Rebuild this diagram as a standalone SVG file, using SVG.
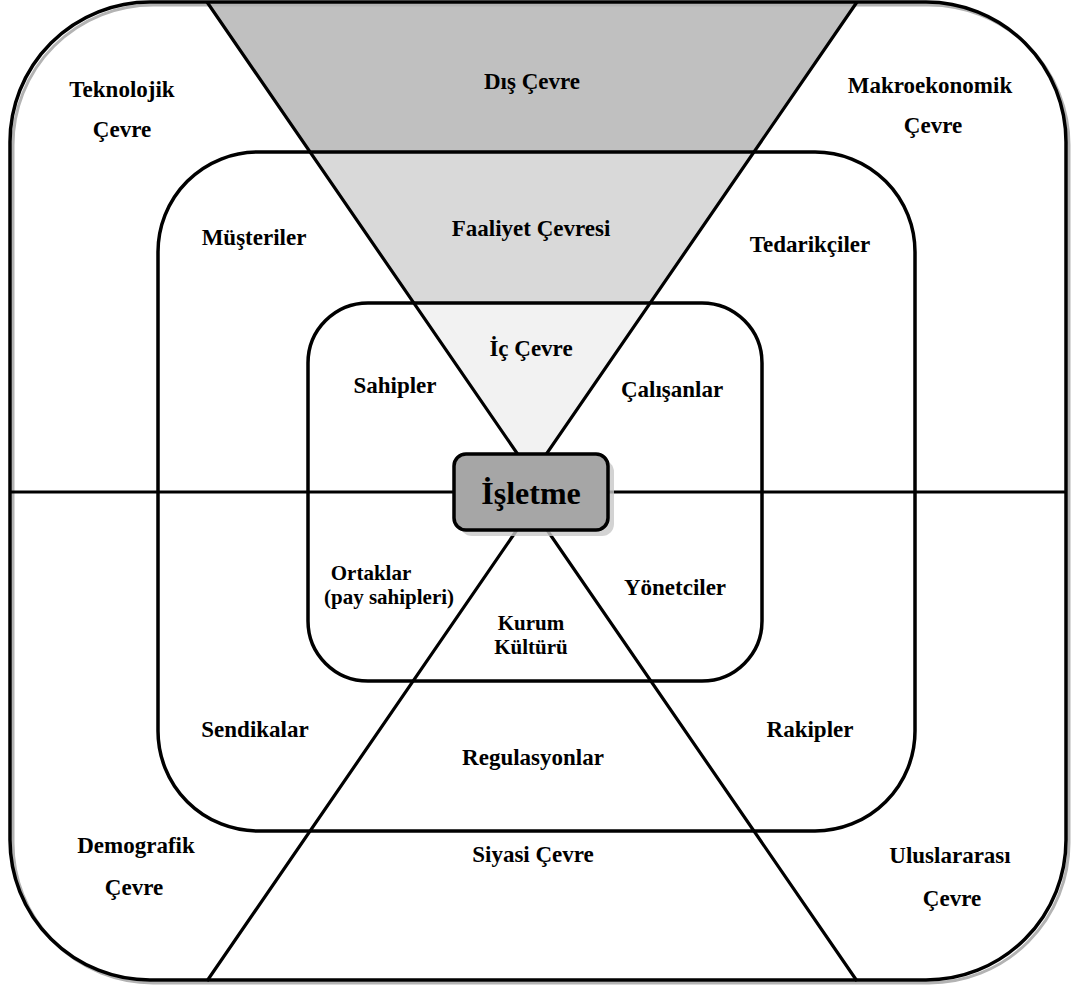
<svg xmlns="http://www.w3.org/2000/svg" width="1072" height="987" viewBox="0 0 1072 987">
  <style>
    .frame { fill: none; stroke: #000; stroke-width: 3.5; }
    .shadow { fill: none; stroke: #b3b3b3; stroke-width: 3; }
    .line { fill: none; stroke: #000; stroke-width: 3.2; }
    .lbl { font-family: "Liberation Serif", "Times New Roman", serif; font-weight: bold; font-size: 23px; fill: #000; text-anchor: middle; }
    .tight { font-size: 21px; }
    .core { font-size: 32px; }
  </style>
  <rect x="0" y="0" width="1072" height="987" fill="#fff"/>

  <!-- shaded bands of the upper wedge -->
  <g id="wedge-fill">
    <polygon points="207,2 857,2 754,152 310,152" fill="#c0c0c0"/>
    <polygon points="310,152 754,152 650,303 414,303" fill="#d9d9d9"/>
    <polygon points="414,303 650,303 532,475" fill="#f2f2f2"/>
  </g>

  <!-- environment rings -->
  <g id="ring-outer">
    <rect class="shadow" x="13" y="5" width="1056" height="978" rx="140" ry="140"/>
    <rect class="frame" x="10" y="2" width="1056" height="978" rx="140" ry="140"/>
  </g>
  <g id="ring-task">
    <rect class="frame" x="158" y="152" width="757" height="679" rx="100" ry="100"/>
  </g>
  <g id="ring-inner">
    <rect class="frame" x="308" y="303" width="454" height="378" rx="60" ry="60"/>
  </g>

  <!-- dividing lines -->
  <g id="connectors">
    <line class="line" x1="10" y1="492" x2="1066" y2="492"/>
    <polyline class="line" points="207,2 532,475 857,2"/>
    <polyline class="line" points="207,981 532,508 857,981"/>
  </g>

  <!-- central organisation box -->
  <g id="isletme">
    <rect x="460" y="460" width="154" height="76" rx="12" ry="12" fill="#c8c8c8" opacity="0.8"/>
    <rect x="454" y="454" width="154" height="76" rx="12" ry="12" fill="#a6a6a6" stroke="#000" stroke-width="3.5"/>
    <text class="lbl core" x="531" y="504">İşletme</text>
  </g>

  <!-- labels -->
  <g id="dis-cevre"><text class="lbl" x="532" y="89">Dış Çevre</text></g>
  <g id="teknolojik">
    <text class="lbl" x="122" y="97">Teknolojik</text>
    <text class="lbl" x="122" y="137">Çevre</text>
  </g>
  <g id="makroekonomik">
    <text class="lbl" x="930" y="93">Makroekonomik</text>
    <text class="lbl" x="933" y="133">Çevre</text>
  </g>
  <g id="musteriler"><text class="lbl" x="254" y="245">Müşteriler</text></g>
  <g id="faaliyet"><text class="lbl" x="531" y="236">Faaliyet Çevresi</text></g>
  <g id="tedarikciler"><text class="lbl" x="810" y="252">Tedarikçiler</text></g>
  <g id="ic-cevre"><text class="lbl" x="531" y="356">İç Çevre</text></g>
  <g id="sahipler"><text class="lbl" x="395" y="393">Sahipler</text></g>
  <g id="calisanlar"><text class="lbl" x="672" y="397">Çalışanlar</text></g>
  <g id="ortaklar">
    <text class="lbl tight" x="371" y="580">Ortaklar</text>
    <text class="lbl tight" x="389" y="604">(pay sahipleri)</text>
  </g>
  <g id="yonetciler"><text class="lbl" x="675" y="595">Yönetciler</text></g>
  <g id="kurum-kulturu">
    <text class="lbl tight" x="531" y="630">Kurum</text>
    <text class="lbl tight" x="531" y="654">Kültürü</text>
  </g>
  <g id="sendikalar"><text class="lbl" x="255" y="737">Sendikalar</text></g>
  <g id="regulasyonlar"><text class="lbl" x="533" y="765">Regulasyonlar</text></g>
  <g id="rakipler"><text class="lbl" x="810" y="737">Rakipler</text></g>
  <g id="demografik">
    <text class="lbl" x="136" y="853">Demografik</text>
    <text class="lbl" x="134" y="895">Çevre</text>
  </g>
  <g id="siyasi"><text class="lbl" x="533" y="862">Siyasi Çevre</text></g>
  <g id="uluslararasi">
    <text class="lbl" x="950" y="863">Uluslararası</text>
    <text class="lbl" x="952" y="906">Çevre</text>
  </g>
</svg>
